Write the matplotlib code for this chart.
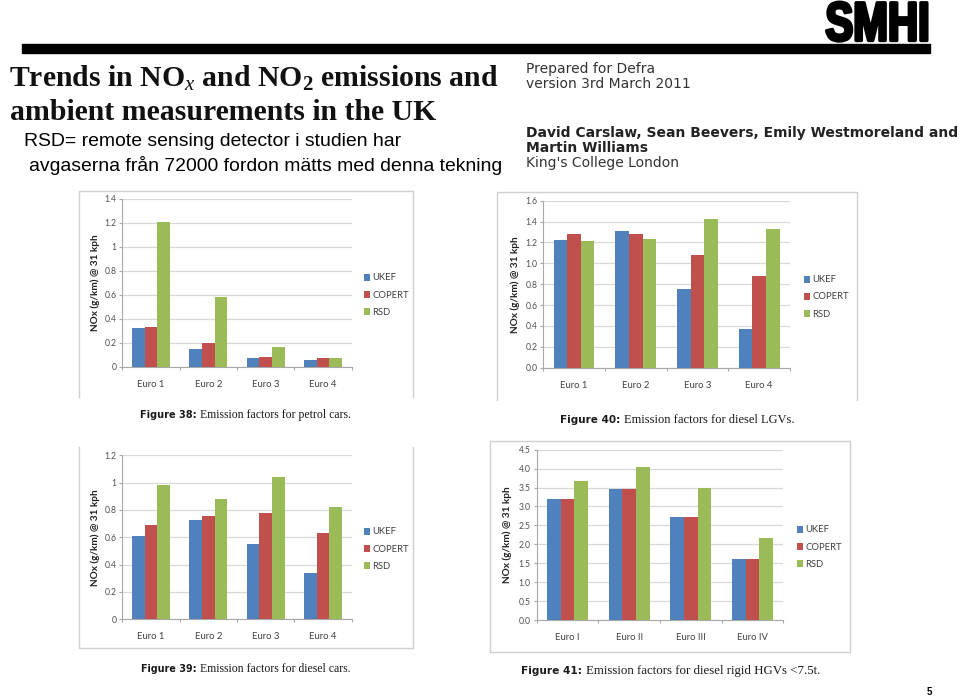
import matplotlib
matplotlib.use('Agg')
import matplotlib.pyplot as plt
from matplotlib.lines import Line2D
from matplotlib.transforms import Affine2D
import matplotlib.patheffects as pe
import numpy as np

W, H = 960, 697

series_names = ['UKEF', 'COPERT', 'RSD']
series_colors = ['#4f81bd', '#c0504d', '#9bbb59']
euro_arabic = ['Euro 1', 'Euro 2', 'Euro 3', 'Euro 4']
euro_roman = ['Euro I', 'Euro II', 'Euro III', 'Euro IV']

petrol_ukef = [0.32, 0.15, 0.07, 0.055]
petrol_copert = [0.33, 0.195, 0.085, 0.07]
petrol_rsd = [1.21, 0.58, 0.165, 0.075]
petrol_ticks = [0, 0.2, 0.4, 0.6, 0.8, 1, 1.2, 1.4]
petrol_labels = ['0', '0.2', '0.4', '0.6', '0.8', '1', '1.2', '1.4']

lgv_ukef = [1.22, 1.31, 0.755, 0.375]
lgv_copert = [1.285, 1.285, 1.08, 0.875]
lgv_rsd = [1.21, 1.235, 1.425, 1.33]
lgv_ticks = [0, 0.2, 0.4, 0.6, 0.8, 1.0, 1.2, 1.4, 1.6]
lgv_labels = ['0.0', '0.2', '0.4', '0.6', '0.8', '1.0', '1.2', '1.4', '1.6']

diesel_ukef = [0.61, 0.725, 0.55, 0.34]
diesel_copert = [0.69, 0.755, 0.78, 0.635]
diesel_rsd = [0.98, 0.88, 1.04, 0.82]
diesel_ticks = [0, 0.2, 0.4, 0.6, 0.8, 1, 1.2]
diesel_labels = ['0', '0.2', '0.4', '0.6', '0.8', '1', '1.2']

hgv_ukef = [3.21, 3.45, 2.71, 1.62]
hgv_copert = [3.21, 3.45, 2.71, 1.62]
hgv_rsd = [3.66, 4.03, 3.49, 2.17]
hgv_ticks = [0, 0.5, 1, 1.5, 2, 2.5, 3, 3.5, 4, 4.5]
hgv_labels = ['0.0', '0.5', '1.0', '1.5', '2.0', '2.5', '3.0', '3.5', '4.0', '4.5']

plt.rcParams['mathtext.fontset'] = 'custom'
plt.rcParams['mathtext.it'] = 'Liberation Serif:italic'
plt.rcParams['mathtext.bf'] = 'Liberation Serif:bold'
plt.rcParams['mathtext.rm'] = 'Liberation Serif'

fig = plt.figure(figsize=(W / 100, H / 100), dpi=100)


class Squeeze(pe.AbstractPathEffect):
	# no narrow bold font installed, so squeeze the glyphs of the logo sideways
	def __init__(self, x0, sx, lw):
		super().__init__()
		self.x0, self.sx, self.lw = x0, sx, lw

	def draw_path(self, renderer, gc, tpath, affine, rgbFace=None):
		squeezed = affine + Affine2D().translate(-self.x0, 0).scale(self.sx, 1).translate(self.x0, 0)
		gc0 = renderer.new_gc()
		gc0.copy_properties(gc)
		gc0.set_linewidth(self.lw)
		gc0.set_foreground('black')
		renderer.draw_path(gc0, tpath, squeezed, rgbFace)
		gc0.restore()


def fx(x):
	return x / W


def fy(y):
	return 1 - y / H


def put(x, y, s, **kw):
	kw.setdefault('va', 'center')
	return fig.text(fx(x), fy(y), s, **kw)


def chart(box, frame, cats, vals, ticks, labels, ylabel_x, legend_x, legend_y, closed=True):
	# frame and axes come in image pixels: left, top, right, bottom
	l, t, r, b = frame
	xs = [l, l, r, r] + ([l] if closed else [])
	ys = [b, t, t, b] + ([b] if closed else [])
	fig.add_artist(Line2D([fx(v) for v in xs], [fy(v) for v in ys], color='#cdd1d5', lw=1.0))

	l, t, r, b = box
	ax = fig.add_axes([fx(l), fy(b), (r - l) / W, (b - t) / H])
	x = np.arange(len(cats))
	w = 0.22
	for i, v in enumerate(vals):
		ax.bar(x + (i - 1) * w, v, w, color=series_colors[i], label=series_names[i], zorder=3)
	ax.set_xlim(-0.5, 3.5)
	ax.set_ylim(0, ticks[-1])
	ax.set_yticks(ticks)
	ax.set_yticklabels(labels)
	ax.set_xticks(x)
	ax.set_xticklabels(cats)
	ax.set_xticks(np.arange(-0.5, 4), minor=True)
	ax.tick_params(axis='x', which='major', length=0, pad=9.5, labelsize=6.8, labelcolor='#404040')
	ax.tick_params(axis='x', which='minor', length=2, color='#a8a8a8', width=0.8)
	ax.tick_params(axis='y', length=2, color='#a8a8a8', width=0.8, pad=2.3, labelsize=6.2, labelcolor='#505050')
	for lab in ax.get_xticklabels() + ax.get_yticklabels():
		lab.set_family('Lato')
	ax.grid(axis='y', color='#d8d8d8', lw=0.9, zorder=0)
	ax.set_axisbelow(True)
	for s in ['top', 'right']:
		ax.spines[s].set_visible(False)
	for s in ['left', 'bottom']:
		ax.spines[s].set_color('#a8a8a8')
		ax.spines[s].set_linewidth(0.8)
	ax.set_ylabel('NOx (g/km) @ 31 kph', family='Lato', weight='bold', fontsize=7.2, color='#202020')
	ax.yaxis.set_label_coords(fx(ylabel_x + 4.5), fy((t + b) / 2), transform=fig.transFigure)
	leg = ax.legend(loc='center left', bbox_to_anchor=(fx(legend_x), fy(legend_y + 1)),
		bbox_transform=fig.transFigure, frameon=False, fontsize=6.8, handlelength=0.65,
		handleheight=0.8, handletextpad=0.25, labelspacing=0.85, borderaxespad=0, borderpad=0)
	for txt in leg.get_texts():
		txt.set_family('Lato')
		txt.set_color('#404040')


def caption(x, x2, y, head, rest, head_size, rest_size):
	put(x, y, head, family='DejaVu Sans', weight='bold', fontsize=head_size, color='#1a1a1a')
	put(x2, y, rest, family='Liberation Serif', fontsize=rest_size, color='#1a1a1a')


# logo and header bar
put(877.5, 40.5, 'SMHI', family='Liberation Sans', weight='bold', fontsize=39.5, ha='center', va='baseline',
	color='black', path_effects=[Squeeze(877.5, 0.76, 2.4)])
fig.add_artist(plt.Rectangle((fx(22), fy(53)), 908 / W, 9 / H, color='black', transform=fig.transFigure))

# title from the report page
title_kw = dict(family='Liberation Serif', weight='bold', fontsize=21.4, color='#111111')
put(9, 78, r'Trends in NO$_{\mathit{x}}$ and NO$_{\mathbf{2}}$ emissions and', **title_kw)
put(10, 113, 'ambient measurements in the UK', **title_kw)

note_kw = dict(family='Liberation Sans', fontsize=13.93, color='black')
put(24, 142, 'RSD= remote sensing detector i studien har', **note_kw)
put(29, 165.5, 'avgaserna från 72000 fordon mätts med denna tekning', **note_kw)

head_kw = dict(family='DejaVu Sans', fontsize=10, color='#333333')
put(526, 69.5, 'Prepared for Defra', **head_kw)
put(526, 84.5, 'version 3rd March 2011', **head_kw)
put(526, 132.5, 'David Carslaw, Sean Beevers, Emily Westmoreland and', family='DejaVu Sans', weight='bold', fontsize=10, color='#222222')
put(526, 147.5, 'Martin Williams', family='DejaVu Sans', weight='bold', fontsize=10, color='#222222')
put(526, 163.5, "King's College London", **head_kw)

chart((122.3, 199, 351.7, 366.7), (79, 191, 413, 397), euro_arabic,
	[petrol_ukef, petrol_copert, petrol_rsd], petrol_ticks, petrol_labels, 96, 364, 294, closed=False)
chart((543.3, 200.7, 790, 367.7), (497, 192, 857, 400), euro_arabic,
	[lgv_ukef, lgv_copert, lgv_rsd], lgv_ticks, lgv_labels, 515, 804, 296, closed=False)
chart((122.3, 455.3, 351.7, 619.3), (79, 648, 413, 447.3), euro_arabic,
	[diesel_ukef, diesel_copert, diesel_rsd], diesel_ticks, diesel_labels, 96, 364, 548, closed=False)
chart((536.7, 449.7, 783.3, 620), (490, 441, 850, 652), euro_roman,
	[hgv_ukef, hgv_copert, hgv_rsd], hgv_ticks, hgv_labels, 508, 797, 546, closed=True)

caption(140, 200, 415, 'Figure 38:', 'Emission factors for petrol cars.', 7, 8.5)
caption(560, 624, 420, 'Figure 40:', 'Emission factors for diesel LGVs.', 7.5, 9.0)
caption(141, 200, 669, 'Figure 39:', 'Emission factors for diesel cars.', 6.9, 8.5)
caption(521, 586, 671, 'Figure 41:', 'Emission factors for diesel rigid HGVs <7.5t.', 7.6, 9.3)

put(929, 692, '5', family='Liberation Sans', weight='bold', fontsize=7, ha='center', color='black')

fig.savefig('out.png', dpi=100)
